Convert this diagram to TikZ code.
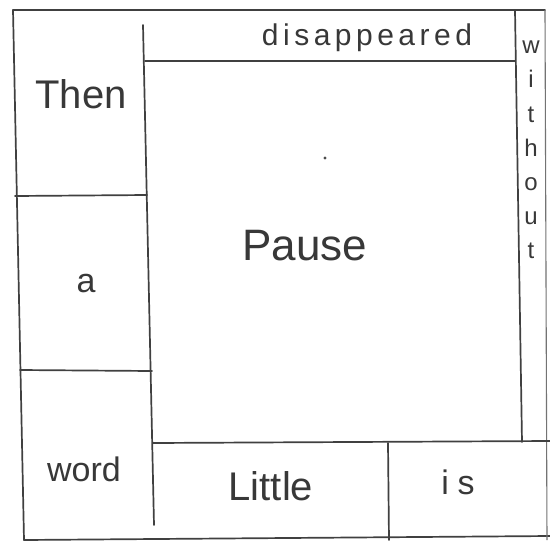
\documentclass[tikz,border=0pt]{standalone}
\usepackage{fontspec}
\setmainfont{Liberation Sans}
\begin{document}
\begin{tikzpicture}[x=1pt,y=-1pt,
  pen/.style={draw=black!75, line width=1.7pt, line cap=round},
  thinpen/.style={draw=black!55, line width=1.1pt},
  word/.style={inner sep=0pt, text=black!78, anchor=base}]
\useasboundingbox[fill=white] (0,0) rectangle (550,542);
% outer frame
\draw[pen] (13,10) -- (545,10);
\draw[pen] (13,10) -- (24,540);
\draw[pen] (24,540) -- (550,536);
\draw[thinpen] (545,10) -- (547,540);
% inner lines
\draw[pen] (143,25) -- (154,525);
\draw[pen] (145,61) -- (515,61);
\draw[pen] (15,196) -- (147,195);
\draw[pen] (20,370) -- (152,371);
\draw[pen] (153,443) -- (550,441);
\draw[pen] (388,443) -- (389,540);
\draw[pen] (515,10) -- (522,442);
% dot
\fill[black!70] (325,158) circle (1.6pt);
% words
\node[word] (then) at (81,108) {\fontsize{40}{40}\selectfont Then};
\node[word] (a) at (86,292) {\fontsize{34}{34}\selectfont a};
\node[word] (word) at (84,481) {\fontsize{34}{34}\selectfont word};
\node[word] (little) at (271,500) {\fontsize{40}{40}\selectfont Little};
\node[word] (is) at (458,494) {\fontsize{34}{34}\selectfont\addfontfeature{LetterSpace=25}is};
\node[word] (dis) at (367,45) {\fontsize{30}{30}\selectfont\addfontfeature{LetterSpace=15}disappeared};
\node[word] (pause) at (305,260) {\fontsize{44}{44}\selectfont Pause};
\node[inner sep=0pt, text=black!78, align=center, anchor=center,
  font=\fontsize{24}{34.2}\selectfont] (without) at (531,150)
  {w\\i\\t\\h\\o\\u\\t};
\end{tikzpicture}
\end{document}
